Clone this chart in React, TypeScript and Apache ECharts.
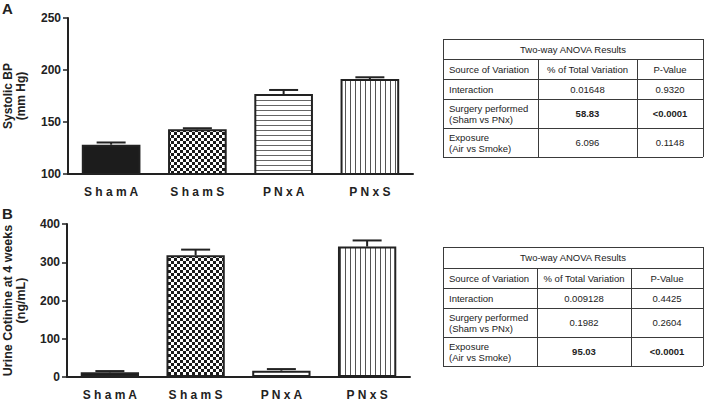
import React, { useEffect, useRef } from 'react';
import * as echarts from 'echarts';

// ---------- data ----------
const categories = ['S h a m A', 'S h a m S', 'P N x A', 'P N x S'];
const bpMean = [128.2, 143.0, 176.9, 191.3];
const bpErrTop = [130.3, 144.0, 180.8, 193.0];
const cotMean = [12.2, 318, 16.5, 341];
const cotErrTop = [15.5, 333, 20.7, 357];
const bpAxis = { min: 100, max: 250, interval: 50 };
const cotAxis = { min: 0, max: 400, interval: 100 };

const tableTitle = 'Two-way ANOVA Results';
const tableColHeaders = ['Source of Variation', '% of Total Variation', 'P-Value'];
const sources = ['Interaction', 'Surgery performed\n(Sham vs PNx)', 'Exposure\n(Air vs Smoke)'];
const pctA = ['0.01648', '58.83', '6.096'];
const pValA = ['0.9320', '<0.0001', '0.1148'];
const boldA = [false, true, false];
const pctB = ['0.009128', '0.1982', '95.03'];
const pValB = ['0.4425', '0.2604', '<0.0001'];
const boldB = [false, false, true];

const FONT = 'Arial, "Liberation Sans", Helvetica, sans-serif';
const INK = '#222';

function makePattern(kind: string): any {
  const size = kind === 'check' ? 6 : 5;
  const c = document.createElement('canvas');
  c.width = size;
  c.height = size;
  const ctx = c.getContext('2d')!;
  ctx.fillStyle = '#fff';
  ctx.fillRect(0, 0, size, size);
  if (kind === 'check') {
    ctx.fillStyle = '#1a1a1a';
    ctx.fillRect(0, 0, 3, 3);
    ctx.fillRect(3, 3, 3, 3);
  } else if (kind === 'hline') {
    ctx.fillStyle = '#666';
    ctx.fillRect(0, 0, size, 1);
  } else if (kind === 'vline') {
    ctx.fillStyle = '#555';
    ctx.fillRect(0, 0, 1, size);
  }
  return { image: c, repeat: 'repeat', imageWidth: size, imageHeight: size };
}

function buildTable(
  top: number,
  rowBounds: number[],
  colX: number[],
  pct: string[],
  pv: string[],
  bold: boolean[]
): any[] {
  const left = 443;
  const right = 703;
  const els: any[] = [];
  const lineStyle = { stroke: '#3a3a3a', lineWidth: 1 };
  // outer + horizontal lines
  const ys = [top, ...rowBounds];
  ys.forEach((y) => {
    els.push({ type: 'line', shape: { x1: left, y1: y + 0.5, x2: right, y2: y + 0.5 }, style: lineStyle, silent: true });
  });
  els.push({ type: 'line', shape: { x1: left + 0.5, y1: top, x2: left + 0.5, y2: ys[ys.length - 1] }, style: lineStyle });
  els.push({ type: 'line', shape: { x1: right + 0.5, y1: top, x2: right + 0.5, y2: ys[ys.length - 1] }, style: lineStyle });
  colX.forEach((x) => {
    els.push({ type: 'line', shape: { x1: x + 0.5, y1: rowBounds[0], x2: x + 0.5, y2: ys[ys.length - 1] }, style: lineStyle });
  });
  const txt = (x: number, y: number, text: string, align: string, isBold = false) => ({
    type: 'text',
    x,
    y,
    style: {
      text,
      fill: INK,
      font: `${isBold ? 'bold ' : ''}9.5px ${FONT}`,
      align,
      verticalAlign: 'middle',
      lineHeight: 11,
    },
  });
  els.push(txt((left + right) / 2, (top + rowBounds[0]) / 2, tableTitle, 'center'));
  const colMid1 = (colX[0] + colX[1]) / 2;
  const colMid2 = (colX[1] + right) / 2;
  const hy = (rowBounds[0] + rowBounds[1]) / 2;
  els.push(txt(left + 6, hy, tableColHeaders[0], 'left'));
  els.push(txt(colMid1, hy, tableColHeaders[1], 'center'));
  els.push(txt(colMid2, hy, tableColHeaders[2], 'center'));
  sources.forEach((s, i) => {
    const y = (rowBounds[i + 1] + rowBounds[i + 2]) / 2;
    els.push(txt(left + 6, y, s, 'left'));
    els.push(txt(colMid1, y, pct[i], 'center', bold[i]));
    els.push(txt(colMid2, y, pv[i], 'center', bold[i]));
  });
  return els;
}

export default function App() {
  const ref = useRef<HTMLDivElement>(null);
  useEffect(() => {
    if (!ref.current) return;
    const chart = echarts.init(ref.current, null, { renderer: 'svg' });
    const fills = [
      '#1c1c1c',
      makePattern('check'),
      makePattern('hline'),
      makePattern('vline'),
    ];

    const errRender = (params: any, api: any) => {
      const idx = api.value(0);
      const top = api.coord([idx, api.value(1)]);
      const err = api.coord([idx, api.value(2)]);
      const half = 14.5;
      return {
        type: 'group',
        children: [
          { type: 'line', shape: { x1: top[0], y1: top[1], x2: err[0], y2: err[1] }, style: { stroke: INK, lineWidth: 2 } },
          { type: 'line', shape: { x1: err[0] - half, y1: err[1], x2: err[0] + half, y2: err[1] }, style: { stroke: INK, lineWidth: 2 } },
        ],
      };
    };

    const xAxisBase = (gridIndex: number) => ({
      type: 'category',
      gridIndex,
      data: categories,
      axisLine: { lineStyle: { color: INK, width: 2 } },
      axisTick: { alignWithLabel: true, length: 4, lineStyle: { color: INK, width: 1.5 } },
      axisLabel: { color: INK, fontWeight: 'bold', fontSize: 12, fontFamily: FONT, margin: 12 },
    });
    const yAxisBase = (gridIndex: number, ax: any, name: string, gap: number, nameSize: number) => ({
      type: 'value',
      gridIndex,
      min: ax.min,
      max: ax.max,
      interval: ax.interval,
      name,
      nameLocation: 'middle',
      nameGap: gap,
      nameTextStyle: { color: INK, fontWeight: 'bold', fontSize: nameSize, fontFamily: FONT, lineHeight: 13 },
      splitLine: { show: false },
      axisLine: { show: true, lineStyle: { color: INK, width: 2 } },
      axisTick: { show: true, length: 5, lineStyle: { color: INK, width: 1.5 } },
      axisLabel: { color: INK, fontWeight: 'bold', fontSize: 12, fontFamily: FONT, margin: 7 },
    });

    const barData = (vals: number[]) =>
      vals.map((v, i) => ({ value: v, itemStyle: { color: fills[i] } }));

    chart.setOption({
      animation: false,
      backgroundColor: '#fff',
      grid: [
        { left: 60, top: 18, width: 353, height: 156 },
        { left: 60, top: 224, width: 350, height: 155 },
      ],
      xAxis: [xAxisBase(0), xAxisBase(1)],
      yAxis: [
        yAxisBase(0, bpAxis, 'Systolic BP\n(mm Hg)', 41, 12),
        yAxisBase(1, cotAxis, 'Urine Cotinine at 4 weeks\n(ng/mL)', 40, 12.5),
      ],
      series: [
        {
          type: 'bar',
          xAxisIndex: 0,
          yAxisIndex: 0,
          data: barData(bpMean),
          barWidth: '68%',
          itemStyle: { borderColor: INK, borderWidth: 2 },
          z: 2,
        },
        {
          type: 'custom',
          xAxisIndex: 0,
          yAxisIndex: 0,
          data: bpMean.map((v, i) => [i, v, bpErrTop[i]]),
          renderItem: errRender,
          z: 3,
        },
        {
          type: 'bar',
          xAxisIndex: 1,
          yAxisIndex: 1,
          data: barData(cotMean),
          barWidth: '68%',
          itemStyle: { borderColor: INK, borderWidth: 2 },
          z: 2,
        },
        {
          type: 'custom',
          xAxisIndex: 1,
          yAxisIndex: 1,
          data: cotMean.map((v, i) => [i, v, cotErrTop[i]]),
          renderItem: errRender,
          z: 3,
        },
      ],
      graphic: [
        { type: 'text', x: 2, y: 1, style: { text: 'A', font: `bold 15px ${FONT}`, fill: INK } },
        { type: 'text', x: 2, y: 206, style: { text: 'B', font: `bold 15px ${FONT}`, fill: INK } },
        ...buildTable(39, [59, 79, 99, 128, 157], [538, 637], pctA, pValA, boldA),
        ...buildTable(247, [268, 288, 308, 337, 366], [537, 631], pctB, pValB, boldB),
      ],
    });
    return () => chart.dispose();
  }, []);
  return <div ref={ref} style={{ width: 706, height: 401, position: 'absolute', left: 0, top: 0 }} />;
}
